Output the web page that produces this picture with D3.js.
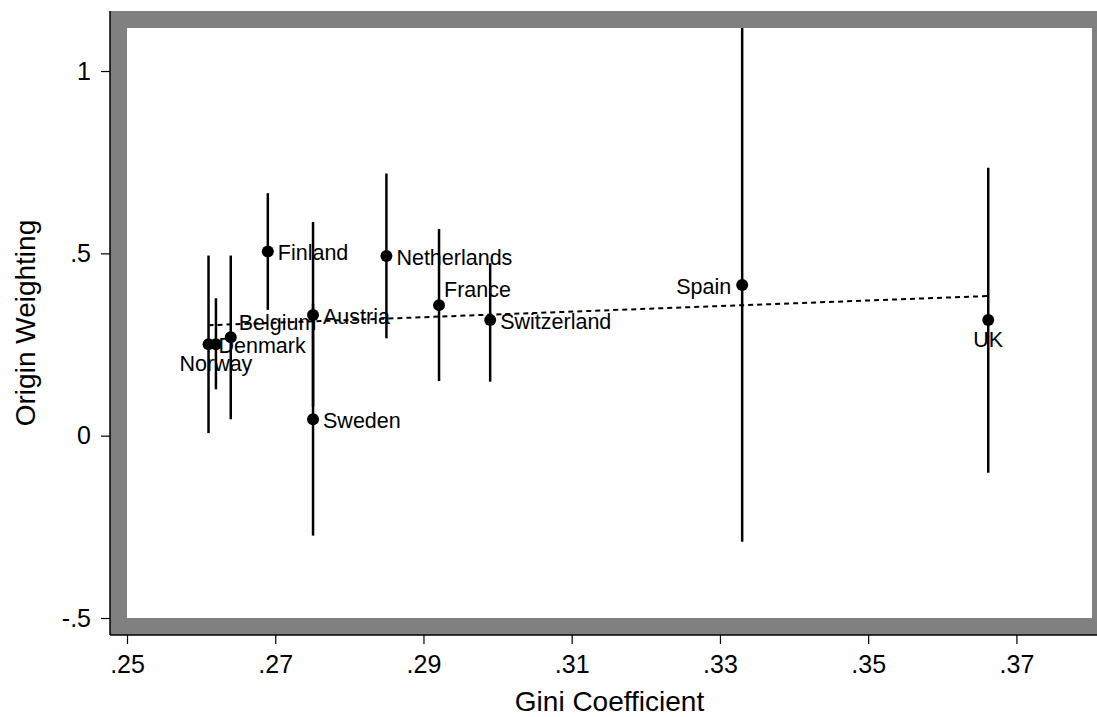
<!DOCTYPE html>
<html>
<head>
<meta charset="utf-8">
<script src="https://cdn.jsdelivr.net/npm/d3@7"></script>
<style>
	body { margin: 0; background: #fff; }
	svg text { font-family: "Liberation Sans", Arial, Helvetica, sans-serif; fill: #000; }
</style>
</head>
<body>
<svg id="chart" width="1097" height="717"></svg>
<script>
// data
var countries = ["Norway", "Denmark", "Belgium", "Finland", "Austria", "Sweden", "Netherlands", "France", "Switzerland", "Spain", "UK"];
var gini = [0.2620, 0.2610, 0.2640, 0.2690, 0.2751, 0.2751, 0.2850, 0.2921, 0.2990, 0.3330, 0.3662];
var weight = [0.251, 0.251, 0.270, 0.505, 0.331, 0.045, 0.493, 0.358, 0.317, 0.413, 0.317];
var ciLow = [0.127, 0.007, 0.045, 0.345, 0.080, -0.274, 0.267, 0.150, 0.148, -0.291, -0.102];
var ciHigh = [0.377, 0.494, 0.494, 0.665, 0.586, 0.362, 0.719, 0.567, 0.473, 1.118, 0.735];
// marker label clock positions (as in Stata mlabvpos)
var labelClock = [6, 3, 2, 3, 3, 3, 3, 1, 3, 9, 6];

// fitted line
var fitIntercept = 0.104;
var fitSlope = 0.762;

var xTicks = [0.25, 0.27, 0.29, 0.31, 0.33, 0.35, 0.37];
var xTickLabels = [".25", ".27", ".29", ".31", ".33", ".35", ".37"];
var yTicks = [-0.5, 0, 0.5, 1];
var yTickLabels = ["-.5", "0", ".5", "1"];

var xTitle = "Gini Coefficient";
var yTitle = "Origin Weighting";

// layout
var inner = { left: 127, top: 28, right: 1092, bottom: 618 };
var rim = 17;
var grey = "#808080";

var svg = d3.select("#chart");

var x = d3.scaleLinear().domain([0.25, 0.3802]).range([inner.left, inner.right]);
var y = d3.scaleLinear().domain([-0.5, 1.118]).range([inner.bottom, inner.top]);

// grey plot region with white inner area
svg.append("rect")
	.attr("x", inner.left - rim).attr("y", inner.top - rim)
	.attr("width", inner.right - inner.left + rim * 3).attr("height", inner.bottom - inner.top + rim * 2)
	.attr("fill", grey);
svg.append("rect")
	.attr("x", inner.left).attr("y", inner.top)
	.attr("width", inner.right - inner.left).attr("height", inner.bottom - inner.top)
	.attr("fill", "#fff");

svg.append("defs").append("clipPath").attr("id", "innerClip")
	.append("rect")
	.attr("x", inner.left).attr("y", inner.top)
	.attr("width", inner.right - inner.left).attr("height", inner.bottom - inner.top);

// axes
var xAxis = d3.axisBottom(x).tickValues(xTicks).tickSize(9).tickPadding(11)
	.tickFormat(function (d, i) { return xTickLabels[i]; });
var yAxis = d3.axisLeft(y).tickValues(yTicks).tickSize(9).tickPadding(10)
	.tickFormat(function (d, i) { return yTickLabels[i]; });

var gx = svg.append("g").attr("transform", "translate(0," + (inner.bottom + rim) + ")").call(xAxis);
var gy = svg.append("g").attr("transform", "translate(" + (inner.left - rim) + ",0)").call(yAxis);

[gx, gy].forEach(function (g) {
	g.select(".domain").remove();
	g.selectAll(".tick line").attr("stroke", "#000").attr("stroke-width", 1.2);
	g.selectAll(".tick text").attr("font-size", 25).attr("fill", "#000")
		.style("font-family", "'Liberation Sans', Arial, Helvetica, sans-serif");
});

// axis lines on the outer edge of the grey rim
svg.append("line")
	.attr("x1", inner.left - rim).attr("x2", 1097)
	.attr("y1", inner.bottom + rim).attr("y2", inner.bottom + rim)
	.attr("stroke", "#000").attr("stroke-width", 1.5);
svg.append("line")
	.attr("x1", inner.left - rim).attr("x2", inner.left - rim)
	.attr("y1", inner.top - rim).attr("y2", inner.bottom + rim)
	.attr("stroke", "#000").attr("stroke-width", 1.5);

// axis titles
svg.append("text")
	.attr("x", (inner.left + inner.right) / 2).attr("y", 711)
	.attr("text-anchor", "middle").attr("font-size", 28)
	.text(xTitle);
svg.append("text")
	.attr("transform", "translate(35," + (inner.top + inner.bottom) / 2 + ") rotate(-90)")
	.attr("text-anchor", "middle").attr("font-size", 28)
	.text(yTitle);

var plot = svg.append("g").attr("clip-path", "url(#innerClip)");

// fitted line
var gMin = d3.min(gini), gMax = d3.max(gini);
var fitLine = d3.line()
	.x(function (d) { return x(d); })
	.y(function (d) { return y(fitIntercept + fitSlope * d); });
plot.append("path")
	.attr("d", fitLine([gMin, gMax]))
	.attr("fill", "none").attr("stroke", "#000")
	.attr("stroke-width", 2).attr("stroke-dasharray", "5,4");

var rows = countries.map(function (c, i) {
	return { name: c, gini: gini[i], w: weight[i], lo: ciLow[i], hi: ciHigh[i], clock: labelClock[i] };
});

// confidence intervals
plot.selectAll("line.ci").data(rows).enter().append("line")
	.attr("class", "ci")
	.attr("x1", function (d) { return x(d.gini); })
	.attr("x2", function (d) { return x(d.gini); })
	.attr("y1", function (d) { return y(d.lo); })
	.attr("y2", function (d) { return y(d.hi); })
	.attr("stroke", "#000").attr("stroke-width", 2.5);

// point estimates
plot.selectAll("circle.pt").data(rows).enter().append("circle")
	.attr("class", "pt")
	.attr("cx", function (d) { return x(d.gini); })
	.attr("cy", function (d) { return y(d.w); })
	.attr("r", 6).attr("fill", "#000");

// marker labels, offset by clock position
var clockOffset = {
	1: { dx: 5, dy: -16, anchor: "start" },
	2: { dx: 8, dy: -15, anchor: "start" },
	3: { dx: 10, dy: 1, anchor: "start" },
	6: { dx: 0, dy: 19, anchor: "middle" },
	9: { dx: -11, dy: 1, anchor: "end" }
};

svg.selectAll("text.mlab").data(rows).enter().append("text")
	.attr("class", "mlab")
	.attr("x", function (d) { return x(d.gini) + clockOffset[d.clock].dx; })
	.attr("y", function (d) { return y(d.w) + clockOffset[d.clock].dy; })
	.attr("dy", "0.36em")
	.attr("text-anchor", function (d) { return clockOffset[d.clock].anchor; })
	.attr("font-size", 21.5)
	.text(function (d) { return d.name; });
</script>
</body>
</html>
